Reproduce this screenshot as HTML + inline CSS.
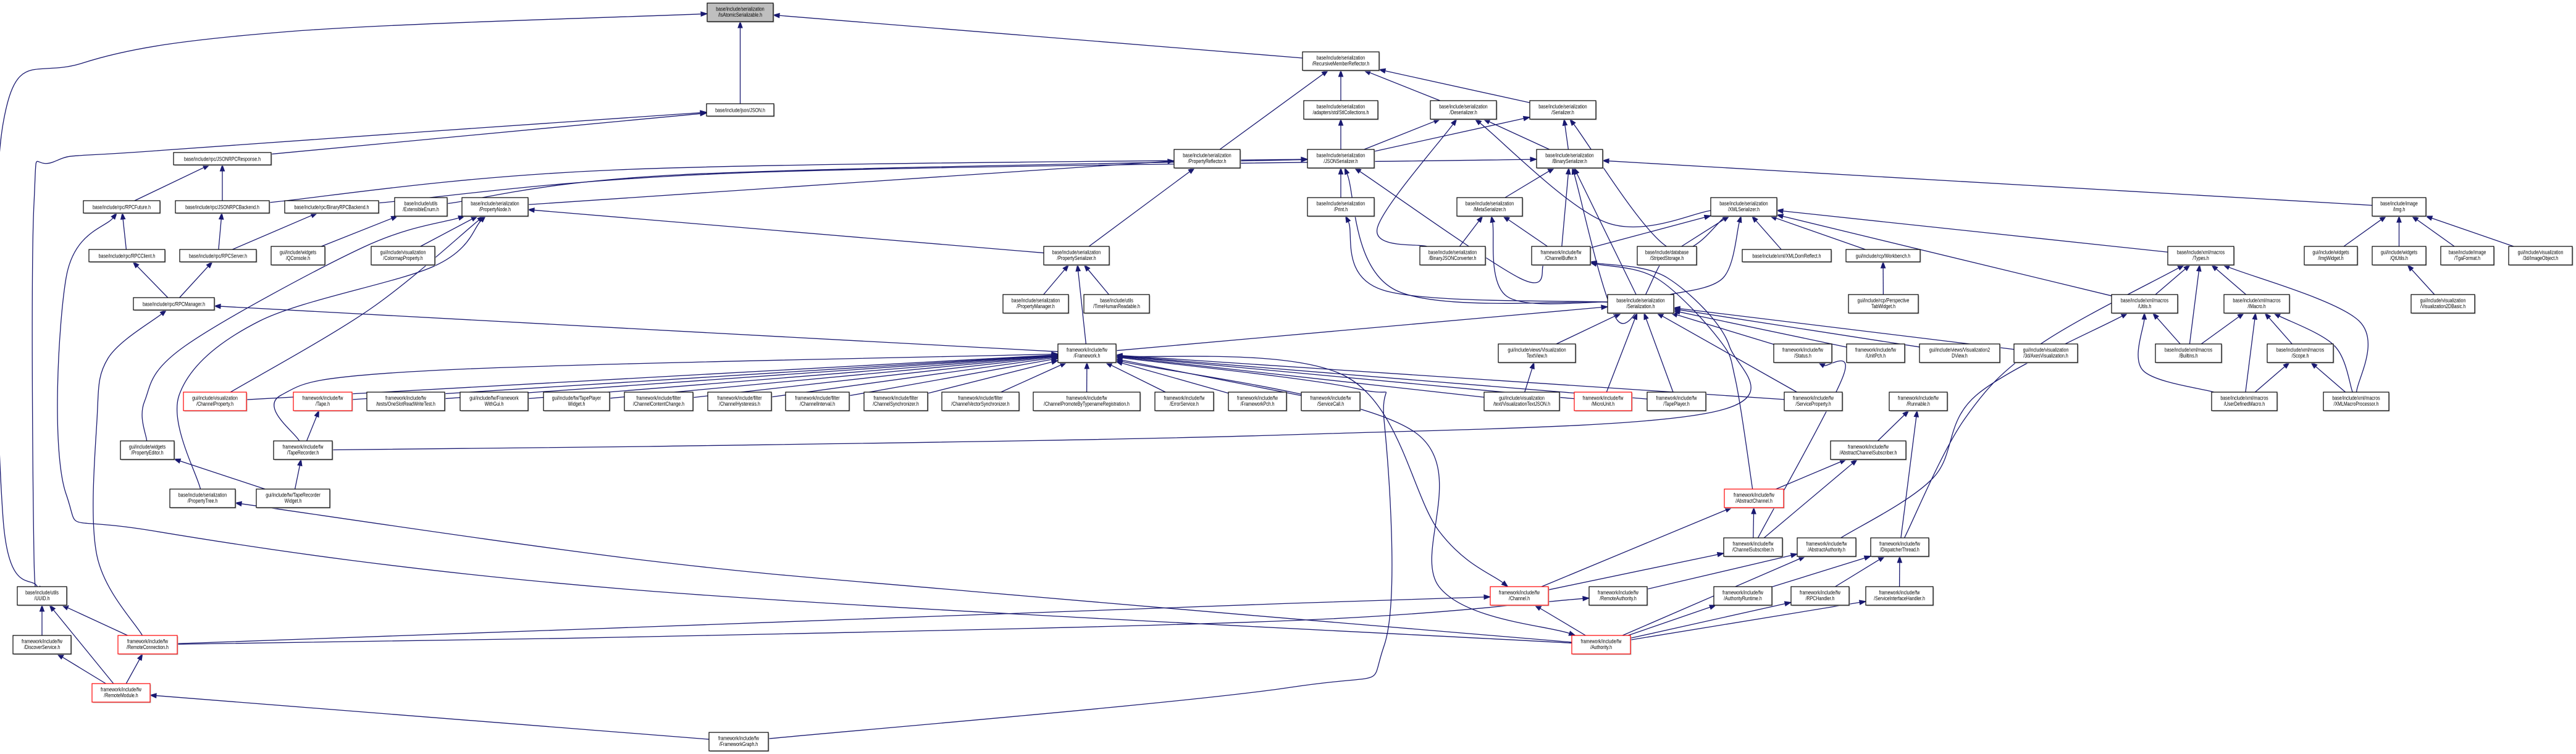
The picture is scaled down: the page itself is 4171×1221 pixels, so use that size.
<!DOCTYPE html>
<html><head><meta charset="utf-8">
<style>
html,body{margin:0;padding:0;background:#fff;}
svg{display:block;}
text{font-family:"Liberation Sans",sans-serif;font-size:9px;fill:#000;text-anchor:middle;}
</style></head>
<body>
<svg id="s" width="4171" height="1221" xmlns="http://www.w3.org/2000/svg">
<g id="edges"></g>
<g id="nodes">
<g id="isatomic"><text>base/include/serialization</text><text>/IsAtomicSerializable.h</text></g>
<g id="json"><text>base/include/json/JSON.h</text></g>
<g id="rmr"><text>base/include/serialization</text><text>/RecursiveMemberReflector.h</text></g>
<g id="jrpcresp"><text>base/include/rpc/JSONRPCResponse.h</text></g>
<g id="stl"><text>base/include/serialization</text><text>/adapters/std/StlCollections.h</text></g>
<g id="deser"><text>base/include/serialization</text><text>/Deserializer.h</text></g>
<g id="ser"><text>base/include/serialization</text><text>/Serializer.h</text></g>
<g id="jsonser"><text>base/include/serialization</text><text>/JSONSerializer.h</text></g>
<g id="binser"><text>base/include/serialization</text><text>/BinarySerializer.h</text></g>
<g id="propref"><text>base/include/serialization</text><text>/PropertyReflector.h</text></g>
<g id="rpcfut"><text>base/include/rpc/RPCFuture.h</text></g>
<g id="jrpcback"><text>base/include/rpc/JSONRPCBackend.h</text></g>
<g id="brpcback"><text>base/include/rpc/BinaryRPCBackend.h</text></g>
<g id="extenum"><text>base/include/utils</text><text>/ExtensibleEnum.h</text></g>
<g id="propnode"><text>base/include/serialization</text><text>/PropertyNode.h</text></g>
<g id="print"><text>base/include/serialization</text><text>/Print.h</text></g>
<g id="meta"><text>base/include/serialization</text><text>/MetaSerializer.h</text></g>
<g id="xmlser"><text>base/include/serialization</text><text>/XMLSerializer.h</text></g>
<g id="img"><text>base/include/image</text><text>/Img.h</text></g>
<g id="rpccli"><text>base/include/rpc/RPCClient.h</text></g>
<g id="rpcsrv"><text>base/include/rpc/RPCServer.h</text></g>
<g id="qcon"><text>gui/include/widgets</text><text>/QConsole.h</text></g>
<g id="colormap"><text>gui/include/visualization</text><text>/ColormapProperty.h</text></g>
<g id="propser"><text>base/include/serialization</text><text>/PropertySerializer.h</text></g>
<g id="bjc"><text>base/include/serialization</text><text>/BinaryJSONConverter.h</text></g>
<g id="chbuf"><text>framework/include/fw</text><text>/ChannelBuffer.h</text></g>
<g id="striped"><text>base/include/database</text><text>/StripedStorage.h</text></g>
<g id="xmldom"><text>base/include/xml/XMLDomReflect.h</text></g>
<g id="workbench"><text>gui/include/rcp/Workbench.h</text></g>
<g id="types"><text>base/include/xml/macros</text><text>/Types.h</text></g>
<g id="imgw"><text>gui/include/widgets</text><text>/ImgWidget.h</text></g>
<g id="qtutils"><text>gui/include/widgets</text><text>/QtUtils.h</text></g>
<g id="tga"><text>base/include/image</text><text>/TgaFormat.h</text></g>
<g id="img3d"><text>gui/include/visualization</text><text>/3d/ImageObject.h</text></g>
<g id="rpcmgr"><text>base/include/rpc/RPCManager.h</text></g>
<g id="propmgr"><text>base/include/serialization</text><text>/PropertyManager.h</text></g>
<g id="timehr"><text>base/include/utils</text><text>/TimeHumanReadable.h</text></g>
<g id="serialization"><text>base/include/serialization</text><text>/Serialization.h</text></g>
<g id="ptw"><text>gui/include/rcp/Perspective</text><text>TabWidget.h</text></g>
<g id="utils"><text>base/include/xml/macros</text><text>/Utils.h</text></g>
<g id="imacro"><text>base/include/xml/macros</text><text>/IMacro.h</text></g>
<g id="v2db"><text>gui/include/visualization</text><text>/Visualization2DBasic.h</text></g>
<g id="fw"><text>framework/include/fw</text><text>/Framework.h</text></g>
<g id="vtv"><text>gui/include/views/Visualization</text><text>TextView.h</text></g>
<g id="status"><text>framework/include/fw</text><text>/Status.h</text></g>
<g id="unitpch"><text>framework/include/fw</text><text>/UnitPch.h</text></g>
<g id="v2dv"><text>gui/include/views/Visualization2</text><text>DView.h</text></g>
<g id="axes"><text>gui/include/visualization</text><text>/3d/AxesVisualization.h</text></g>
<g id="builtins"><text>base/include/xml/macros</text><text>/Builtins.h</text></g>
<g id="scope"><text>base/include/xml/macros</text><text>/Scope.h</text></g>
<g id="chprop"><text>gui/include/visualization</text><text>/ChannelProperty.h</text></g>
<g id="tape"><text>framework/include/fw</text><text>/Tape.h</text></g>
<g id="oneslot"><text>framework/include/fw</text><text>/tests/OneSlotReadWriteTest.h</text></g>
<g id="fwgui"><text>gui/include/fw/Framework</text><text>WithGui.h</text></g>
<g id="tpw"><text>gui/include/fw/TapePlayer</text><text>Widget.h</text></g>
<g id="ccc"><text>framework/include/filter</text><text>/ChannelContentChange.h</text></g>
<g id="chyst"><text>framework/include/filter</text><text>/ChannelHysteresis.h</text></g>
<g id="cint"><text>framework/include/filter</text><text>/ChannelInterval.h</text></g>
<g id="csync"><text>framework/include/filter</text><text>/ChannelSynchronizer.h</text></g>
<g id="cvs"><text>framework/include/filter</text><text>/ChannelVectorSynchronizer.h</text></g>
<g id="cpbtr"><text>framework/include/fw</text><text>/ChannelPromoteByTypenameRegistration.h</text></g>
<g id="errsvc"><text>framework/include/fw</text><text>/ErrorService.h</text></g>
<g id="fwpch"><text>framework/include/fw</text><text>/FrameworkPch.h</text></g>
<g id="svccall"><text>framework/include/fw</text><text>/ServiceCall.h</text></g>
<g id="vtj"><text>gui/include/visualization</text><text>/text/VisualizationTextJSON.h</text></g>
<g id="micro"><text>framework/include/fw</text><text>/MicroUnit.h</text></g>
<g id="tplayer"><text>framework/include/fw</text><text>/TapePlayer.h</text></g>
<g id="svcprop"><text>framework/include/fw</text><text>/ServiceProperty.h</text></g>
<g id="runnable"><text>framework/include/fw</text><text>/Runnable.h</text></g>
<g id="udm"><text>base/include/xml/macros</text><text>/UserDefinedMacro.h</text></g>
<g id="xmp"><text>base/include/xml/macros</text><text>/XMLMacroProcessor.h</text></g>
<g id="propedit"><text>gui/include/widgets</text><text>/PropertyEditor.h</text></g>
<g id="taperec"><text>framework/include/fw</text><text>/TapeRecorder.h</text></g>
<g id="acs"><text>framework/include/fw</text><text>/AbstractChannelSubscriber.h</text></g>
<g id="proptree"><text>base/include/serialization</text><text>/PropertyTree.h</text></g>
<g id="trw"><text>gui/include/fw/TapeRecorder</text><text>Widget.h</text></g>
<g id="abch"><text>framework/include/fw</text><text>/AbstractChannel.h</text></g>
<g id="chsub"><text>framework/include/fw</text><text>/ChannelSubscriber.h</text></g>
<g id="abauth"><text>framework/include/fw</text><text>/AbstractAuthority.h</text></g>
<g id="disp"><text>framework/include/fw</text><text>/DispatcherThread.h</text></g>
<g id="uuid"><text>base/include/utils</text><text>/UUID.h</text></g>
<g id="channel"><text>framework/include/fw</text><text>/Channel.h</text></g>
<g id="remauth"><text>framework/include/fw</text><text>/RemoteAuthority.h</text></g>
<g id="authrt"><text>framework/include/fw</text><text>/AuthorityRuntime.h</text></g>
<g id="rpch"><text>framework/include/fw</text><text>/RPCHandler.h</text></g>
<g id="sih"><text>framework/include/fw</text><text>/ServiceInterfaceHandler.h</text></g>
<g id="disc"><text>framework/include/fw</text><text>/DiscoverService.h</text></g>
<g id="remconn"><text>framework/include/fw</text><text>/RemoteConnection.h</text></g>
<g id="auth"><text>framework/include/fw</text><text>/Authority.h</text></g>
<g id="remmod"><text>framework/include/fw</text><text>/RemoteModule.h</text></g>
<g id="fwgraph"><text>framework/include/fw</text><text>/FrameworkGraph.h</text></g>
</g>
</svg>
<script>
(function(){
var RY=[5,84,163,242,320,399,477,557,635,714,792,871,950,1029,1107,1186];
var N={
isatomic:[1145,1252,0,0,'g'],json:[1144,1253,2,1],rmr:[2109,2233,1],jrpcresp:[281,439,3,1],
stl:[2111,2231,2],deser:[2316,2423,2],ser:[2477,2584,2],
jsonser:[2117,2225,3],binser:[2488,2595,3],propref:[1901,2008,3],
rpcfut:[135,259,4,1],jrpcback:[284,436,4,1],brpcback:[461,613,4,1],extenum:[639,724,4],propnode:[748,855,4],
print:[2117,2225,4],meta:[2359,2465,4],xmlser:[2770,2877,4],img:[3841,3928,4],
rpccli:[144,267,5,1],rpcsrv:[291,415,5,1],qcon:[439,526,5],colormap:[601,704,5],propser:[1690,1796,5],
bjc:[2299,2405,5],chbuf:[2480,2575,5],striped:[2651,2747,5],xmldom:[2821,2965,5,1],workbench:[2989,3109,5,1],
types:[3510,3617,5],imgw:[3731,3817,5],qtutils:[3841,3928,5],tga:[3952,4038,5],img3d:[4062,4165,5],
rpcmgr:[216,347,6,1],propmgr:[1624,1730,6],timehr:[1755,1861,6],serialization:[2603,2710,6],ptw:[2993,3106,6],
utils:[3419,3526,6],imacro:[3601,3707,6],v2db:[3904,4007,6],
fw:[1713,1807,7],vtv:[2426,2551,7],status:[2872,2966,7],unitpch:[2990,3084,7],v2dv:[3108,3238,7],axes:[3261,3364,7],
builtins:[3490,3597,7],scope:[3671,3778,7],
chprop:[297,399,8,0,'r'],tape:[475,570,8,0,'r'],oneslot:[594,720,8],fwgui:[745,855,8],tpw:[880,987,8],
ccc:[1011,1122,8],chyst:[1146,1249,8],cint:[1272,1375,8],csync:[1399,1502,8],cvs:[1525,1650,8],cpbtr:[1673,1846,8],
errsvc:[1870,1965,8],fwpch:[1989,2083,8],svccall:[2107,2202,8],vtj:[2403,2525,8],micro:[2549,2642,8,0,'r'],
tplayer:[2667,2762,8],svcprop:[2889,2983,8],runnable:[3059,3153,8],udm:[3581,3687,8],xmp:[3762,3868,8],
propedit:[195,282,9],taperec:[443,538,9],acs:[2964,3086,9],
proptree:[275,381,10],trw:[415,534,10],abch:[2792,2888,10,0,'r'],
chsub:[2791,2886,11],abauth:[2910,3005,11],disp:[3029,3123,11],
uuid:[28,108,12],channel:[2413,2507,12,0,'r'],remauth:[2573,2667,12],authrt:[2775,2869,12],rpch:[2900,2994,12],sih:[3021,3130,12],
disc:[21,115,13],remconn:[191,287,13,0,'r'],auth:[2545,2640,13,0,'r'],
remmod:[149,243,14,0,'r'],fwgraph:[1148,1244,15]
};
var NS='http://www.w3.org/2000/svg';
var R={};
for(var id in N){
 var d=N[id],g=document.getElementById(id);if(!g)continue;
 var x=d[0],w=d[1]-d[0],single=d[3],y=RY[d[2]]+(single?5:0),h=single?20:30;
 R[id]={x:x,y:y,w:w,h:h};
 var sh=document.createElementNS(NS,'rect');
 sh.setAttribute('x',x+1.5);sh.setAttribute('y',y+1.5);sh.setAttribute('width',w);sh.setAttribute('height',h);sh.setAttribute('fill','#bbb');
 var r=document.createElementNS(NS,'rect');
 r.setAttribute('x',x);r.setAttribute('y',y);r.setAttribute('width',w);r.setAttribute('height',h);
 r.setAttribute('fill',d[4]=='g'?'#bfbfbf':'#fff');
 r.setAttribute('stroke',d[4]=='r'?'#ff0000':'#000');r.setAttribute('stroke-width','1.2');
 g.insertBefore(r,g.firstChild);g.insertBefore(sh,g.firstChild);
 var ts=g.getElementsByTagName('text'),cx=x+w/2;
 for(var i=0;i<ts.length;i++){
  ts[i].setAttribute('x',cx);
  ts[i].setAttribute('y',single?y+13.5:y+12.5+i*9.5);
  var L=ts[i].getComputedTextLength();
  var t=Math.min(L*0.78,w-6);
  ts[i].setAttribute('textLength',t);ts[i].setAttribute('lengthAdjust','spacingAndGlyphs');
 }
}
function ctr(r){return [r.x+r.w/2,r.y+r.h/2];}
function clip(r,p){var c=ctr(r),dx=p[0]-c[0],dy=p[1]-c[1];
 var tx=dx?(r.w/2)/Math.abs(dx):1e9,ty=dy?(r.h/2)/Math.abs(dy):1e9,t=Math.min(tx,ty);
 return [c[0]+dx*t,c[1]+dy*t];}
var E=[
['json','isatomic'],['rmr','isatomic'],['jrpcresp','json'],['propref','rmr'],['stl','rmr'],['deser','rmr'],['ser','rmr'],
['jsonser','stl'],['jsonser','deser'],['jsonser','ser'],['binser','deser'],['binser','ser'],
['propnode','propref'],['propser','propref'],['print','jsonser'],['meta','binser'],['xmlser','ser',[[2700,400]]],['xmlser','deser',[[2600,360]]],
['jrpcback','jsonser',[[1000,275]]],['brpcback','binser',[[1200,280]]],['extenum','jsonser',[[1100,283]]],
['bjc','meta'],['bjc','deser',[[2230,370]]],['chbuf','meta'],['chbuf','binser'],['chbuf','jsonser',[[2460,450]]],['chbuf','xmlser'],
['striped','binser',[[2620,520]]],['striped','xmlser'],['xmldom','xmlser'],['workbench','xmlser'],
['serialization','print',[[2240,470]]],['serialization','jsonser',[[2260,470]]],['serialization','meta',[[2440,480]]],['serialization','binser'],['serialization','xmlser',[[2790,450]]],
['ptw','workbench'],['img','binser'],['imgw','img'],['qtutils','img'],['tga','img'],['img3d','img'],['v2db','qtutils'],
['types','xmlser'],['utils','types'],['imacro','types'],['builtins','types'],['builtins','utils'],['builtins','imacro'],['scope','imacro'],
['udm','imacro'],['udm','scope'],['udm','utils',[[3470,600]]],['xmp','scope'],['xmp','types',[[3820,520]]],['xmp','imacro',[[3780,560]]],['utils','xmlser'],
['rpcfut','jrpcresp'],['jrpcback','jrpcresp'],['rpccli','rpcfut'],['rpcsrv','jrpcback'],['rpcsrv','brpcback'],['qcon','extenum'],['colormap','propnode'],
['rpcmgr','rpccli'],['rpcmgr','rpcsrv'],['propser','propnode'],['propmgr','propser'],['timehr','propser'],['fw','propser'],['fw','rpcmgr'],['fw','serialization'],
['chprop','fw'],['chprop','propnode',[[600,500]]],['tape','fw'],['oneslot','fw'],['fwgui','fw'],['tpw','fw'],['ccc','fw'],['chyst','fw'],['cint','fw'],['csync','fw'],['cvs','fw'],['cpbtr','fw'],
['errsvc','fw'],['fwpch','fw'],['svccall','fw'],['vtj','fw'],['micro','fw'],['tplayer','fw'],['svcprop','fw'],
['vtj','vtv'],['micro','serialization'],['tplayer','serialization'],['svcprop','serialization'],
['taperec','tape'],['taperec','fw',[[455,640],[700,600]]],['trw','taperec'],['trw','propedit'],
['propedit','propnode',[[234,650],[300,560],[589,400]]],['proptree','propnode',[[290,640],[420,520],[703,431]]],
['vtv','serialization'],['status','serialization'],['unitpch','serialization'],['v2dv','serialization'],['axes','serialization'],
['uuid','isatomic',[[5,840],[5,200],[134,102],[469,51]]],['uuid','json',[[55,900],[55,330],[87,262],[268,243]]],
['remconn','uuid'],['remmod','uuid'],['disc','uuid'],['remmod','disc'],['remmod','remconn'],
['remconn','rpcmgr',[[157,900],[157,680],[175,580]]],
['auth','rpcfut',[[1050,957],[250,860],[107,800],[107,450]]],['auth','proptree',[[1600,960],[1050,908]]],
['remconn','channel',[[1050,1015],[2090,977]]],['remconn','remauth',[[1050,1031],[2090,1005]]],
['fwgraph','remmod'],['fwgraph','fw',[[2090,1113],[2241,1046],[2241,680],[2200,630]]],
['channel','abch'],['channel','chsub'],['auth','channel'],['auth','abauth'],['auth','authrt'],['auth','rpch'],['auth','sih'],
['remauth','abauth'],['authrt','disp'],['rpch','disp'],['sih','disp'],['chsub','abch'],['chsub','acs'],['abch','acs'],
['acs','runnable'],['disp','runnable'],['abch','chbuf',[[2810,615],[2783,549],[2683,451]]],
['taperec','chbuf',[[1050,723],[2090,704],[2770,668],[2800,560],[2700,450]]],
['chsub','status',[[2984,610]]],['fw','channel',[[2180,610],[2330,860]]],['fw','auth',[[2291,700],[2330,950]]],
['abauth','utils',[[3130,774],[3200,640]]],['disp','types',[[3180,680],[3300,560]]]
];
var eg=document.getElementById('edges'),col='#191970';
function add(tag,a){var e=document.createElementNS(NS,tag);for(var k in a)e.setAttribute(k,a[k]);eg.appendChild(e);}
E.forEach(function(e){
 var s=R[e[0]],t=R[e[1]];if(!s||!t)return;
 var via=e[2]||[];
 var p0=clip(s,via.length?via[0]:ctr(t));
 var last=via.length?via[via.length-1]:p0;
 var p1=clip(t,last.length?last:p0);
 var pts=[p0].concat(via).concat([p1]);
 var pl=pts[pts.length-2],dx=p1[0]-pl[0],dy=p1[1]-pl[1],L=Math.sqrt(dx*dx+dy*dy)||1;
 var ux=dx/L,uy=dy/L,AL=10,AW=3.6;
 var b=[p1[0]-ux*AL,p1[1]-uy*AL];
 pts[pts.length-1]=b;
 var d='M'+pts[0][0]+','+pts[0][1];
 if(pts.length==2){d+=' L'+b[0]+','+b[1];}
 else{
  for(var i=0;i<pts.length-1;i++){
   var q0=pts[Math.max(i-1,0)],q1=pts[i],q2=pts[i+1],q3=pts[Math.min(i+2,pts.length-1)];
   var c1=[q1[0]+(q2[0]-q0[0])/6,q1[1]+(q2[1]-q0[1])/6],c2=[q2[0]-(q3[0]-q1[0])/6,q2[1]-(q3[1]-q1[1])/6];
   d+=' C'+c1[0]+','+c1[1]+' '+c2[0]+','+c2[1]+' '+q2[0]+','+q2[1];
  }
 }
 add('path',{d:d,fill:'none',stroke:col,'stroke-width':'1.3'});
 add('polygon',{points:p1[0]+','+p1[1]+' '+(b[0]-uy*AW)+','+(b[1]+ux*AW)+' '+(b[0]+uy*AW)+','+(b[1]-ux*AW),fill:col,stroke:col});
});
})();
</script>
</body></html>
